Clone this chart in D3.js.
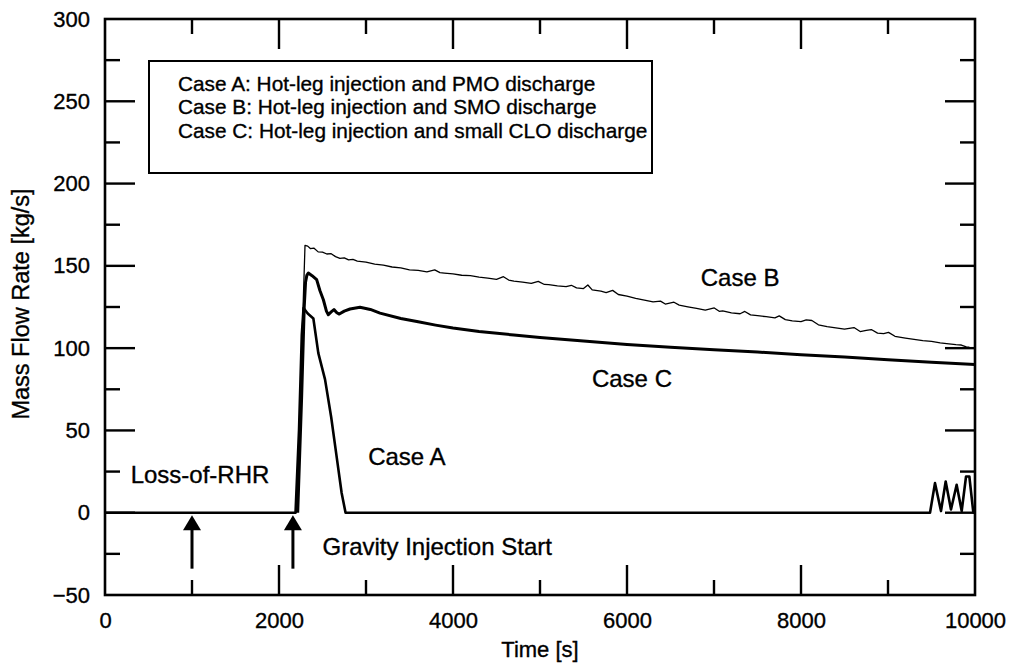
<!DOCTYPE html>
<html>
<head>
<meta charset="utf-8">
<script src="https://cdn.jsdelivr.net/npm/d3@7/dist/d3.min.js"></script>
<style>
  html, body { margin: 0; padding: 0; background: #fff; }
  svg { display: block; }
  text { font-family: "Liberation Sans", Arial, Helvetica, sans-serif; fill: #000;
         stroke: #000; stroke-width: 0.35px; }
</style>
</head>
<body>
<svg id="chart" width="1015" height="668"></svg>
<script>
// Axis ticks
const timeTicks = [0, 2000, 4000, 6000, 8000, 10000];
const timeMinorTicks = [1000, 3000, 5000, 7000, 9000];
const rateTicks = [-50, 0, 50, 100, 150, 200, 250, 300];
const rateMinorTicks = [-25, 25, 75, 125, 175, 225, 275];

// Legend entries
const legendLines = [
  "Case A: Hot-leg injection and PMO discharge",
  "Case B: Hot-leg injection and SMO discharge",
  "Case C: Hot-leg injection and small CLO discharge"
];

// Event markers (time of arrow, s)
const eventTimes = [1000, 2160];

// Case A: hot-leg injection, PMO discharge  [time s, kg/s]
const caseA = [
  [0, 0], [2190, 0], [2230, 50], [2262, 108], [2282, 124.4], [2330, 121],
  [2395, 118], [2452, 97], [2529, 81], [2600, 58], [2660, 35], [2720, 12],
  [2765, 0], [9483, 0], [9540, 18], [9609, 1], [9663, 19], [9724, 2],
  [9789, 17], [9847, 1], [9897, 22], [9935, 22], [9981, 0], [10000, 0]
];

// Case B: hot-leg injection, SMO discharge
const caseB = [
  [2200, 0], [2250, 80], [2299, 162.5], [2330, 162], [2360, 160.5], [2400, 160.8],
  [2450, 158.5], [2500, 158.3], [2550, 157.2], [2600, 157.4], [2650, 155.6],
  [2700, 154.6], [2750, 154.9], [2800, 153.6], [2850, 153.9], [2900, 152.9],
  [3000, 152.3], [3100, 151], [3200, 150.4], [3300, 149.3], [3400, 148.8],
  [3500, 147.6], [3600, 147.2], [3700, 146.4], [3790, 147.6], [3850, 145.9],
  [3900, 145.6], [4000, 145.1], [4100, 144.3], [4200, 144.1], [4300, 143.2],
  [4400, 142.6], [4500, 141.8], [4580, 143.4], [4640, 141.4], [4700, 140.7],
  [4800, 140.1], [4900, 139.3], [4980, 140.6], [5050, 138.7], [5100, 138.6],
  [5200, 137.8], [5300, 137.4], [5360, 138.2], [5420, 136.6], [5500, 136.2],
  [5550, 138.4], [5600, 135.4], [5700, 134.6], [5760, 133.7], [5835, 135.1],
  [5900, 132.6], [6000, 131.6], [6100, 130.3], [6200, 129.2], [6300, 128.1],
  [6385, 128.6], [6440, 126.8], [6540, 127.9], [6600, 126.1], [6700, 125.1],
  [6800, 124.2], [6900, 123.1], [7003, 124.4], [7060, 122.4], [7100, 122.6],
  [7200, 121.4], [7300, 120.9], [7354, 122.3], [7420, 120.2], [7500, 119.7],
  [7600, 119.1], [7700, 118.4], [7750, 119.6], [7820, 117.3], [7900, 116.6],
  [8000, 116.1], [8060, 117.2], [8125, 116.8], [8200, 114.2], [8300, 113.1],
  [8400, 112.3], [8500, 111.6], [8609, 112.5], [8680, 110.1], [8750, 110.8],
  [8808, 111.3], [8880, 109.1], [8950, 108.8], [9006, 109.6], [9080, 107.2],
  [9200, 106.1], [9300, 105.3], [9400, 104.6], [9500, 104.1], [9600, 103.2],
  [9700, 102.6], [9780, 102.1], [9843, 101.9], [9900, 100.8], [9935, 100.6]
];

// Case C: hot-leg injection, small CLO discharge
const caseC = [
  [2215, 0], [2260, 70], [2290, 125], [2305, 140], [2320, 144.2], [2337, 145.6],
  [2380, 144], [2433, 141.6], [2470, 135], [2510, 129.4], [2545, 122.5],
  [2567, 120.3], [2600, 122], [2632, 123.4], [2665, 121.5], [2693, 120.7],
  [2750, 122.5], [2816, 123.8], [2931, 124.8], [3050, 123.5], [3161, 121.3],
  [3400, 118], [3600, 116], [3800, 114], [4000, 112.2], [4300, 110.1],
  [4700, 108], [5000, 106.5], [5500, 104.3], [6000, 102.2], [6500, 100.6],
  [7000, 99], [7500, 97.6], [8000, 96], [8500, 94.6], [9000, 93], [9500, 91.5],
  [10000, 90]
];

const svg = d3.select("#chart");
const margin = { left: 105, right: 40, top: 19, bottom: 73 };
const W = 1015, H = 668;

const x = d3.scaleLinear().domain([0, 10000]).range([margin.left, W - margin.right]);
const y = d3.scaleLinear().domain([-50, 300]).range([H - margin.bottom, margin.top]);

const plot = svg.append("g");

// Tick marks pointing inward on all four sides
function tickLines(sel, values, len, horizontalAxis) {
  values.forEach(v => {
    if (horizontalAxis) {
      sel.append("line").attr("x1", x(v)).attr("x2", x(v))
        .attr("y1", y(-50)).attr("y2", y(-50) - len);
      sel.append("line").attr("x1", x(v)).attr("x2", x(v))
        .attr("y1", y(300)).attr("y2", y(300) + len);
    } else {
      sel.append("line").attr("y1", y(v)).attr("y2", y(v))
        .attr("x1", x(0)).attr("x2", x(0) + len);
      sel.append("line").attr("y1", y(v)).attr("y2", y(v))
        .attr("x1", x(10000)).attr("x2", x(10000) - len);
    }
  });
}
const ticks = plot.append("g").attr("stroke", "#000").attr("stroke-width", 2.4);
tickLines(ticks, timeTicks.slice(1, -1), 30, true);
tickLines(ticks, timeMinorTicks, 15, true);
tickLines(ticks, rateTicks.slice(1, -1), 30, false);
tickLines(ticks, rateMinorTicks, 15, false);

// Tick labels
const xAxis = d3.axisBottom(x).tickValues(timeTicks).tickSize(0).tickPadding(0).tickFormat(d3.format("d"));
const gx = svg.append("g").attr("transform", `translate(0,${y(-50) + 17})`).call(xAxis);
gx.select(".domain").remove();
gx.selectAll("text").attr("font-size", 22).attr("dy", "0.71em")
  .style("font-family", '"Liberation Sans", Arial, sans-serif');

const yAxis = d3.axisLeft(y).tickValues(rateTicks).tickSize(0).tickPadding(0).tickFormat(d3.format("d"));
const gy = svg.append("g").attr("transform", `translate(${x(0) - 15},0)`).call(yAxis);
gy.select(".domain").remove();
gy.selectAll("text").attr("font-size", 22)
  .style("font-family", '"Liberation Sans", Arial, sans-serif');

// Axis titles
svg.append("text").attr("x", (x(0) + x(10000)) / 2).attr("y", 651)
  .attr("text-anchor", "middle").attr("dominant-baseline", "middle")
  .attr("font-size", 22).text("Time [s]");
svg.append("text")
  .attr("transform", `translate(23,${(y(-50) + y(300)) / 2 - 3}) rotate(-90)`)
  .attr("text-anchor", "middle").attr("dominant-baseline", "middle")
  .attr("font-size", 23.5).text("Mass Flow Rate [kg/s]");

// Curves
const line = d3.line().x(d => x(d[0])).y(d => y(d[1]));
plot.append("path").datum(caseB).attr("d", line)
  .attr("fill", "none").attr("stroke", "#000").attr("stroke-width", 1.3)
  .attr("stroke-linejoin", "round");
plot.append("path").datum(caseC).attr("d", line)
  .attr("fill", "none").attr("stroke", "#000").attr("stroke-width", 3)
  .attr("stroke-linejoin", "round");
plot.append("path").datum(caseA).attr("d", line)
  .attr("fill", "none").attr("stroke", "#000").attr("stroke-width", 2.6)
  .attr("stroke-linejoin", "round");

// Event arrows
eventTimes.forEach(t => {
  const cx = x(t), tip = y(-1.5), base = tip + 15, end = y(-34);
  plot.append("line").attr("x1", cx).attr("x2", cx).attr("y1", base - 1).attr("y2", end)
    .attr("stroke", "#000").attr("stroke-width", 3);
  plot.append("path")
    .attr("d", `M${cx},${tip} L${cx - 9},${base} L${cx + 9},${base} Z`)
    .attr("fill", "#000");
});

// Frame
plot.append("rect")
  .attr("x", x(0)).attr("y", y(300))
  .attr("width", x(10000) - x(0)).attr("height", y(-50) - y(300))
  .attr("fill", "none").attr("stroke", "#000").attr("stroke-width", 2.6);

// Legend
const lg = svg.append("g");
lg.append("rect").attr("x", 149).attr("y", 61).attr("width", 503).attr("height", 112)
  .attr("fill", "#fff").attr("stroke", "#000").attr("stroke-width", 2);
legendLines.forEach((s, i) => {
  lg.append("text").attr("x", 178).attr("y", 85 + i * 23.5)
    .attr("dominant-baseline", "middle").attr("font-size", 20.8).text(s);
});

// Annotations
const ann = svg.append("g").attr("font-size", 24);
ann.append("text").attr("x", x(7300)).attr("y", y(141.6)).attr("text-anchor", "middle")
  .attr("dominant-baseline", "middle").text("Case B");
ann.append("text").attr("x", x(6057)).attr("y", y(80)).attr("text-anchor", "middle")
  .attr("dominant-baseline", "middle").text("Case C");
ann.append("text").attr("x", x(3470)).attr("y", y(33)).attr("text-anchor", "middle")
  .attr("dominant-baseline", "middle").text("Case A");
ann.append("text").attr("x", x(1092)).attr("y", y(22)).attr("text-anchor", "middle")
  .attr("dominant-baseline", "middle").text("Loss-of-RHR");
ann.append("text").attr("x", x(2500)).attr("y", y(-22)).attr("text-anchor", "start")
  .attr("dominant-baseline", "middle").text("Gravity Injection Start");
</script>
</body>
</html>
